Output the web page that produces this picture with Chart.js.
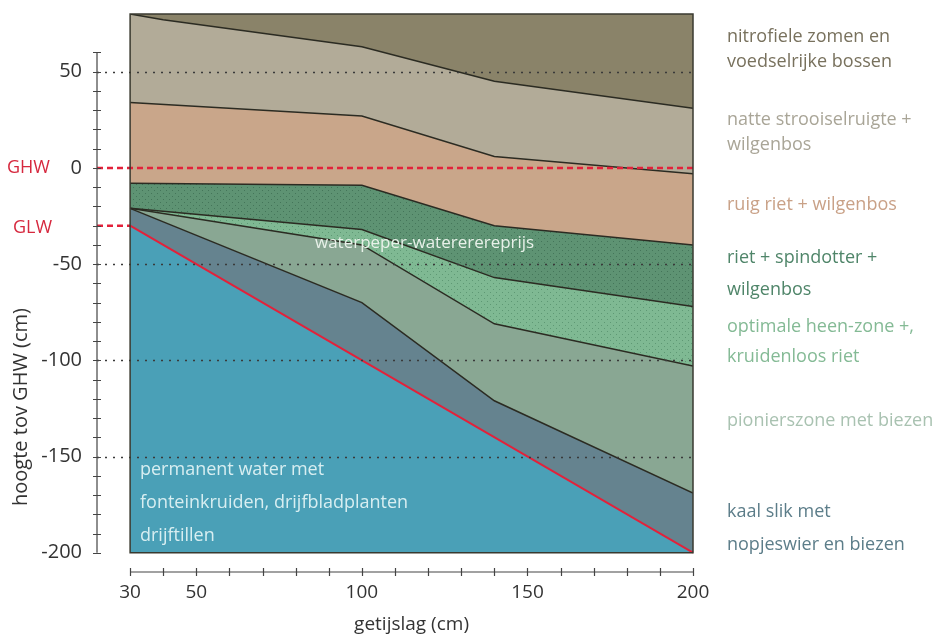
<!DOCTYPE html>
<html>
<head>
<meta charset="utf-8">
<script src="https://cdn.jsdelivr.net/npm/chart.js@4.4.1/dist/chart.umd.min.js"></script>
<style>
    body { margin: 0; background: #fff; }
    canvas { display: block; }
</style>
</head>
<body>
<canvas id="zonering" width="938" height="637"></canvas>
<script>
// zonering langs getijdenrivier: grenzen tussen vegetatiezones
const getijslag = [30, 100, 140, 200];
const getijslagBoven = [30, 40, 100, 140, 200];
const getijslagLaag = [30, 200];

const grensNitrofiel = [80, 77, 63, 45, 31];
const grensStrooisel = [34, 27, 6, -3];
const grensRuigRiet = [-8, -9, -30, -40];
const grensSpindotter = [-21, -32, -57, -72];
const grensHeen = [-21, -40, -81, -103];
const grensPionier = [-21, -70, -121, -169];
const laagwaterlijn = [-30, -200];

const xLabels = [30, 50, 100, 150, 200];
const yLabels = [50, 0, -50, -100, -150, -200];
const gridLijnen = [50, -50, -100, -150];

const zoneNamen = [
    ['nitrofiele zomen en', 'voedselrijke bossen'],
    ['natte strooiselruigte +', 'wilgenbos'],
    ['ruig riet + wilgenbos'],
    ['riet + spindotter +', 'wilgenbos'],
    ['optimale heen-zone +,', 'kruidenloos riet'],
    ['pionierszone met biezen'],
    ['kaal slik met', 'nopjeswier en biezen']
];
const waterTekst = ['permanent water met', 'fonteinkruiden, drijfbladplanten', 'drijftillen'];

const font = 'Open Sans';
const zoneKleur = ['#8a8369', '#b2ab98', '#c9a68a', '#5e9373', '#7fb993', '#89a793', '#65838f', '#4aa0b7'];
const zoneTekstKleur = ['#78715d', '#a9a597', '#c9a187', '#4f8569', '#84ba95', '#a9c2b1', '#5c7d89'];
const zoneTekstY = [[37, 62], [120, 145], [205], [258, 290], [327, 357], [421], [512, 545]];

function stippel(base, dot) {
    const c = document.createElement('canvas');
    c.width = 6;
    c.height = 6;
    const g = c.getContext('2d');
    g.fillStyle = base;
    g.fillRect(0, 0, 6, 6);
    g.fillStyle = dot;
    g.fillRect(1, 1, 1, 1);
    g.fillRect(4, 4, 1, 1);
    return g.createPattern(c, 'repeat');
}

const toPoints = (xs, ys) => xs.map((x, i) => ({x, y: ys[i]}));

const lijn = {borderColor: '#2b2b22', borderWidth: 1.5, pointRadius: 0, tension: 0};

const datasets = [
    {...lijn, data: toPoints(getijslagBoven, grensNitrofiel), fill: {value: 80}, backgroundColor: zoneKleur[0]},
    {...lijn, data: toPoints(getijslag, grensStrooisel), fill: '-1', backgroundColor: zoneKleur[1]},
    {...lijn, data: toPoints(getijslag, grensRuigRiet), fill: '-1', backgroundColor: zoneKleur[2]},
    {...lijn, data: toPoints(getijslag, grensSpindotter), fill: '-1', backgroundColor: stippel(zoneKleur[3], '#447559')},
    {...lijn, data: toPoints(getijslag, grensHeen), fill: '-1', backgroundColor: stippel(zoneKleur[4], '#5e9874')},
    {...lijn, data: toPoints(getijslag, grensPionier), fill: '-1', backgroundColor: zoneKleur[5]},
    {...lijn, data: toPoints(getijslagLaag, laagwaterlijn), fill: '-1', backgroundColor: zoneKleur[6], borderColor: '#e3213a', borderWidth: 2},
    {...lijn, data: toPoints(getijslagLaag, laagwaterlijn), fill: {value: -200}, backgroundColor: zoneKleur[7], borderWidth: 0, borderColor: 'transparent'}
];

const assen = {
    id: 'assen',
    afterDatasetsDraw(chart) {
        const {ctx, chartArea, scales: {x, y}} = chart;
        const links = chartArea.left;
        const rechts = x.getPixelForValue(200);
        ctx.save();

        // stippellijnen
        ctx.strokeStyle = '#3a3a3a';
        ctx.lineWidth = 1.5;
        ctx.setLineDash([2, 6]);
        gridLijnen.forEach(v => {
            const py = Math.round(y.getPixelForValue(v)) + 0.5;
            ctx.beginPath();
            ctx.moveTo(links, py);
            ctx.lineTo(rechts, py);
            ctx.stroke();
        });

        // GHW en GLW
        ctx.strokeStyle = '#e3213a';
        ctx.lineWidth = 2.5;
        ctx.setLineDash([6, 4]);
        let py = y.getPixelForValue(0);
        ctx.beginPath();
        ctx.moveTo(links, py);
        ctx.lineTo(rechts, py);
        ctx.stroke();
        py = y.getPixelForValue(-30);
        ctx.beginPath();
        ctx.moveTo(links, py);
        ctx.lineTo(x.getPixelForValue(30), py);
        ctx.stroke();
        ctx.setLineDash([]);

        // kader
        ctx.strokeStyle = '#3a3a30';
        ctx.lineWidth = 1.5;
        const x0 = x.getPixelForValue(30), y0 = y.getPixelForValue(80);
        ctx.strokeRect(x0, y0, rechts - x0, y.getPixelForValue(-200) - y0);

        // y-as
        ctx.strokeStyle = '#444';
        ctx.lineWidth = 1.2;
        ctx.beginPath();
        ctx.moveTo(links, y.getPixelForValue(60));
        ctx.lineTo(links, y.getPixelForValue(-200));
        for (let v = 60; v >= -200; v -= 10) {
            const p = Math.round(y.getPixelForValue(v)) + 0.5;
            ctx.moveTo(links - 4, p);
            ctx.lineTo(links + 4, p);
        }
        ctx.stroke();

        // x-as
        const ax = chartArea.bottom;
        ctx.beginPath();
        ctx.moveTo(x0, ax);
        ctx.lineTo(rechts, ax);
        for (let v = 30; v <= 200; v += 10) {
            const p = Math.round(x.getPixelForValue(v)) + 0.5;
            ctx.moveTo(p, ax - 4);
            ctx.lineTo(p, ax + 4);
        }
        ctx.stroke();

        // teksten
        ctx.textBaseline = 'middle';
        ctx.textAlign = 'left';
        ctx.font = `18px "${font}"`;
        ctx.fillStyle = '#d6283e';
        ctx.fillText('GHW', 7, y.getPixelForValue(0));
        ctx.fillText('GLW', 13, y.getPixelForValue(-30) + 2);

        ctx.font = `17px "${font}"`;
        ctx.fillStyle = '#e8f1e9';
        ctx.fillText('waterpeper-watererereprijs', 315, 243);

        ctx.font = `18px "${font}"`;
        ctx.fillStyle = '#d8eef1';
        waterTekst.forEach((t, i) => ctx.fillText(t, 140, 470 + i * 33));

        zoneNamen.forEach((regels, i) => {
            ctx.fillStyle = zoneTekstKleur[i];
            regels.forEach((t, j) => ctx.fillText(t, 727, zoneTekstY[i][j]));
        });

        ctx.textAlign = 'center';
        ctx.fillStyle = '#333';
        ctx.font = `19px "${font}"`;
        ctx.fillText('getijslag (cm)', (x0 + rechts) / 2, 625);

        ctx.save();
        ctx.translate(21, 407);
        ctx.rotate(-Math.PI / 2);
        ctx.font = `20px "${font}"`;
        ctx.fillText('hoogte tov GHW (cm)', 0, 0);
        ctx.restore();

        ctx.restore();
    }
};

new Chart(document.getElementById('zonering').getContext('2d'), {
    type: 'line',
    data: {datasets},
    options: {
        responsive: false,
        animation: false,
        layout: {padding: {top: 14, right: 245, left: 0, bottom: 0}},
        plugins: {
            legend: {display: false},
            tooltip: {enabled: false},
            filler: {drawTime: 'beforeDatasetsDraw'}
        },
        scales: {
            x: {
                type: 'linear',
                min: 20,
                max: 200,
                afterFit: s => { s.height = 65; s.paddingLeft = 0; s.paddingRight = 0; },
                grid: {display: false, drawTicks: false},
                border: {display: false},
                ticks: {
                    stepSize: 10,
                    autoSkip: false,
                    maxRotation: 0,
                    padding: 9,
                    color: '#333',
                    font: {family: font, size: 19},
                    callback: v => xLabels.includes(v) ? v : ''
                }
            },
            y: {
                type: 'linear',
                min: -210,
                max: 80,
                afterFit: s => { s.width = 97; s.paddingTop = 0; s.paddingBottom = 0; },
                grid: {display: false, drawTicks: false},
                border: {display: false},
                ticks: {
                    stepSize: 10,
                    autoSkip: false,
                    padding: 15,
                    color: '#333',
                    font: {family: font, size: 20},
                    callback: v => yLabels.includes(v) ? v : ''
                }
            }
        }
    },
    plugins: [assen]
});
</script>
</body>
</html>
